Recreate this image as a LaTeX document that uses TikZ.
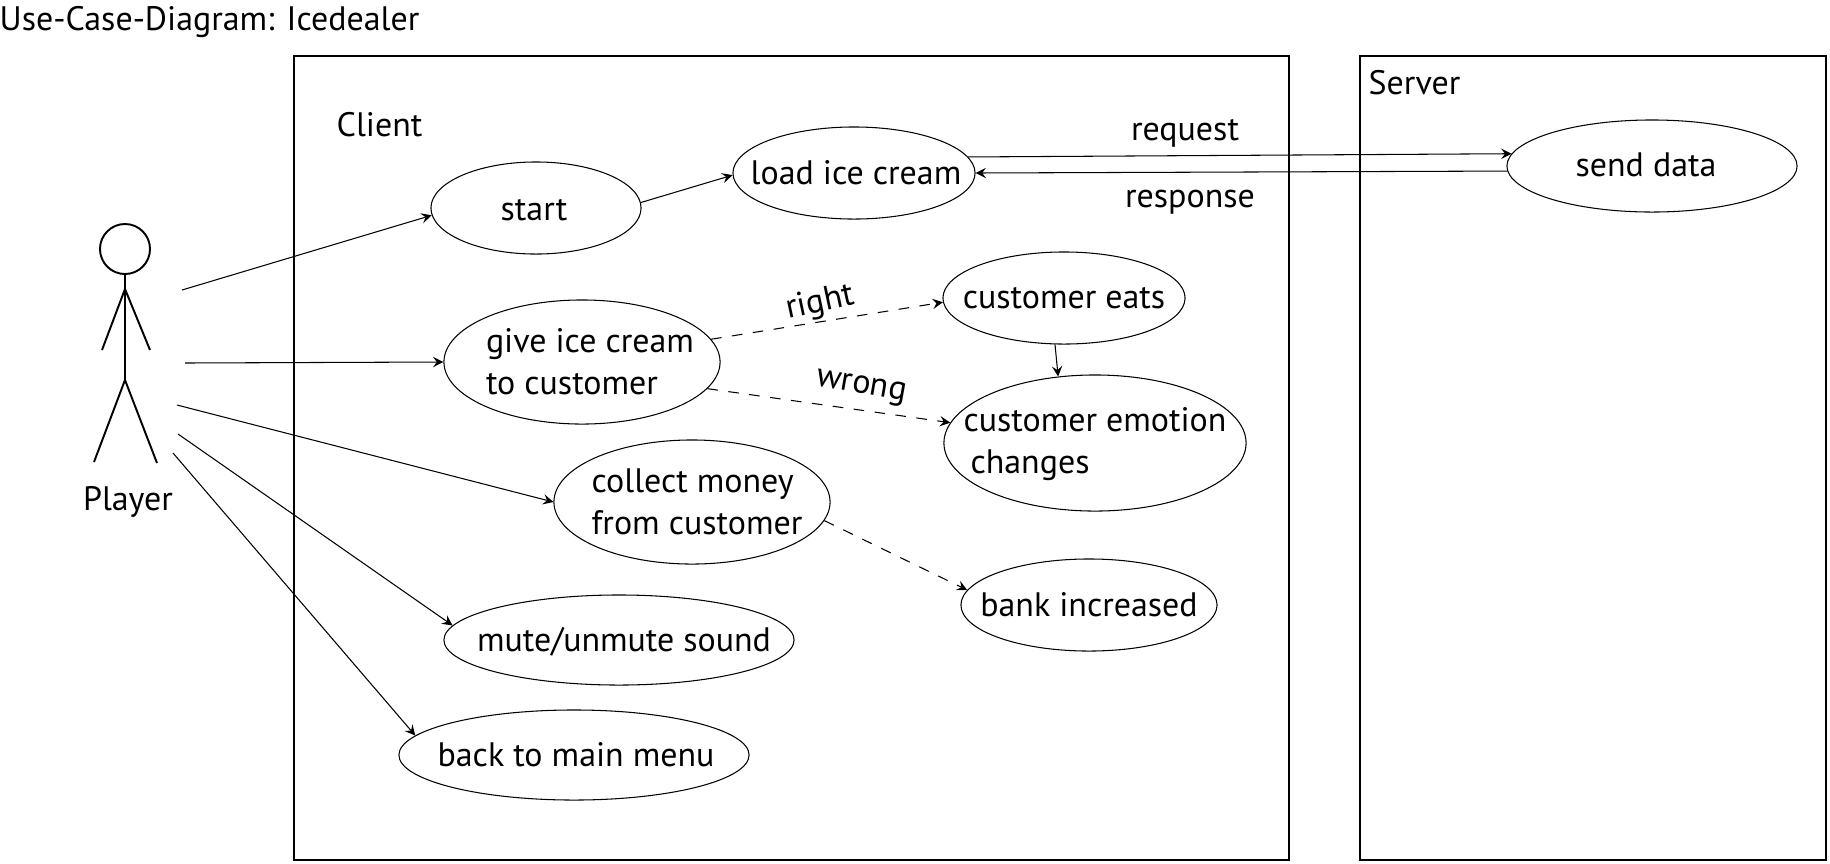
\documentclass[tikz,border=0pt]{standalone}
\usepackage{fontspec}
\setmainfont{PT Sans}
\usepackage{tikz}
\usetikzlibrary{shapes.geometric,arrows}

\tikzset{
    usecase/.style n args={4}{ellipse, draw, line width=0.3pt, inner sep=0pt, minimum width=#1cm, minimum height=#2cm,
        label={[align=left, shift={(#3)}]center:#4}},
    sysbox/.style={rectangle, draw, line width=0.55pt, inner sep=0pt},
    stick/.style={line width=0.55pt},
    flow/.style={line width=0.3pt, -stealth},
    cond/.style={line width=0.3pt, -stealth, dash pattern=on 3pt off 3pt},
    tag/.style={inner sep=0pt}
}

\begin{document}
\begin{tikzpicture}[x=0.01cm, y=-0.01cm, font=\fontsize{9.65pt}{11.9pt}\selectfont]
    \useasboundingbox (0,0) rectangle (1830,863);

    \node[tag, anchor=west] (title) at (-1,22) {Use-Case-Diagram: Icedealer};

    % the two systems
    \node[sysbox, minimum width=9.95cm, minimum height=8.04cm] (client) at (791.5,458) {};
    \node[sysbox, minimum width=4.66cm, minimum height=8.04cm] (server) at (1593,458) {};
    \node[tag, anchor=west] (clientname) at (336,125) {Client};
    \node[tag, anchor=west] (servername) at (1368,83) {Server};

    % player
    \node[circle, draw, stick, inner sep=0pt, minimum size=0.5cm] (head) at (125,249) {};
    \coordinate (neck) at (125,289);
    \coordinate (hip) at (125,380);
    \coordinate (handl) at (102,350);
    \coordinate (handr) at (150,350);
    \coordinate (footl) at (94,462);
    \coordinate (footr) at (157,463);
    \draw[stick] (head) -- (hip);
    \draw[stick] (handl) -- (neck) -- (handr);
    \draw[stick] (footl) -- (hip) -- (footr);
    \node[tag] (player) at (128,502) {Player};

    % use cases
    \node[usecase={2.10}{0.92}{-2,2}{start}] (start) at (536,208) {};
    \node[usecase={2.42}{0.92}{2,0}{load ice cream}] (load) at (854,173) {};
    \node[usecase={2.90}{0.92}{-6,-1}{send data}] (send) at (1652,166) {};
    \node[usecase={2.76}{1.24}{8,0}{give ice cream\\to customer}] (give) at (582,362) {};
    \node[usecase={2.42}{0.92}{0,0}{customer eats}] (eats) at (1064,298) {};
    \node[usecase={3.02}{1.36}{0,1}{customer emotion\\\hspace*{0.7mm}changes}] (emotion) at (1095,443) {};
    \node[usecase={2.76}{1.24}{5,0}{collect money\\from customer}] (collect) at (692,502) {};
    \node[usecase={2.56}{0.92}{0,0}{bank increased}] (bank) at (1089,605) {};
    \node[usecase={3.50}{0.90}{5,2}{mute/unmute sound}] (mute) at (619,640) {};
    \node[usecase={3.50}{0.90}{2,0}{back to main menu}] (back) at (574,755) {};

    % free ends at the player
    \coordinate (p1) at (182,290);
    \coordinate (p2) at (185,363);
    \coordinate (p3) at (177,405);
    \coordinate (p4) at (178,434);
    \coordinate (p5) at (173,453);

    \foreach \from/\to in {p1/start.184, p2/give.180, p3/collect.180, p4/mute.175, p5/back.173.5,
        start.3/load.181, load.8/send.175, send.182/load.0, eats.259/emotion.119}{
        \draw[flow] (\from) -- (\to);
    }
    \foreach \from/\to in {give.10/eats.182, give.-12/emotion.172, collect.-8/bank.173}{
        \draw[cond] (\from) -- (\to);
    }

    \node[tag] (request) at (1185,133) {request};
    \node[tag] (response) at (1190,202) {response};
    \node[tag, rotate=12] (right) at (820,303) {right};
    \node[tag, rotate=-10] (wrong) at (861,388) {wrong};
\end{tikzpicture}
\end{document}
